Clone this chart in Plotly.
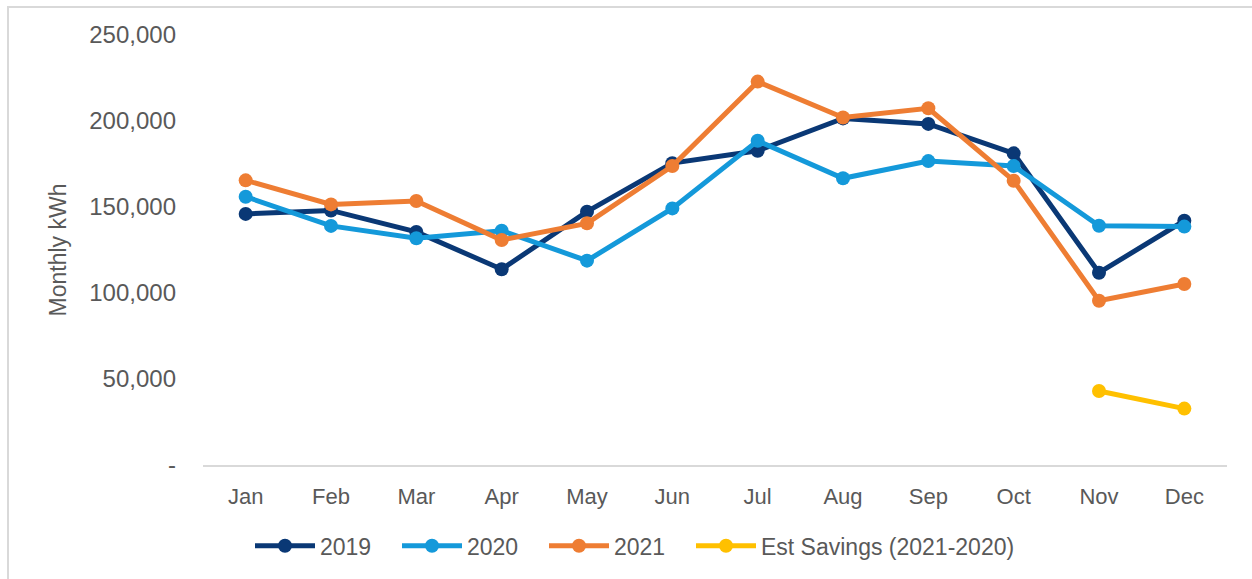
import plotly.graph_objects as go

months = ["Jan", "Feb", "Mar", "Apr", "May", "Jun", "Jul", "Aug", "Sep", "Oct", "Nov", "Dec"]
y2019 = [146000, 148000, 135500, 113800, 147300, 175500, 182700, 201500, 198300, 181200, 111800, 142000]
y2020 = [156000, 139000, 131800, 136200, 118800, 149200, 188500, 166700, 176700, 173800, 139100, 138600]
y2021 = [165500, 151500, 153500, 130800, 140500, 173800, 222900, 202000, 207400, 165300, 95500, 105200]
savings = [None, None, None, None, None, None, None, None, None, None, 43000, 32800]

ytick_vals = [0, 50000, 100000, 150000, 200000, 250000]
ytick_text = ["-", "50,000", "100,000", "150,000", "200,000", "250,000"]

series = [
    ("2019", y2019, "#0A3875", 72),
    ("2020", y2020, "#1499DA", 72),
    ("2021", y2021, "#EE7D33", 72),
    ("Est Savings (2021-2020)", savings, "#FFC000", 0),
]

FONT = "Liberation Sans"
GRAY = "#595959"

fig = go.Figure()
for name, vals, col, lw in series:
    fig.add_trace(go.Scatter(
        x=months, y=vals, name=name, mode="lines+markers",
        line=dict(color=col, width=5),
        marker=dict(color=col, size=14),
        connectgaps=False, legendwidth=lw,
    ))

fig.update_layout(
    width=1252, height=579,
    margin=dict(l=203, r=25, t=35, b=114),
    paper_bgcolor="white", plot_bgcolor="white",
    font=dict(family=FONT, color=GRAY, size=22),
    showlegend=True,
    legend=dict(orientation="h", x=(250 - 203) / 1024, xanchor="left", y=-0.188, yanchor="middle",
                font=dict(size=23, color=GRAY), itemwidth=60, tracegroupgap=0,
                bgcolor="rgba(0,0,0,0)"),
    xaxis=dict(
        type="category", range=[-0.5, 11.5], showgrid=False, zeroline=False,
        showline=True, linecolor="#D9D9D9", linewidth=2,
        ticks="", tickfont=dict(size=22, color=GRAY), ticklabelstandoff=11,
        fixedrange=True,
    ),
    yaxis=dict(
        range=[0, 250000], showgrid=False, zeroline=False, showline=False,
        tickvals=ytick_vals, ticktext=ytick_text, ticks="",
        tickfont=dict(size=24, color=GRAY), ticklabelstandoff=26,
        title=dict(text="Monthly kWh", font=dict(size=23, color=GRAY), standoff=16),
        fixedrange=True,
    ),
    shapes=[dict(type="rect", xref="paper", yref="paper",
                 x0=(8 - 203) / 1024, x1=(1270 - 203) / 1024,
                 y0=(465 - 600) / 430, y1=(465 - 7) / 430,
                 line=dict(color="#D9D9D9", width=2), layer="below")],
)

fig.write_html("out.html", config={"displayModeBar": False},
               post_script="document.body.style.margin='0';document.body.style.overflow='hidden';")
